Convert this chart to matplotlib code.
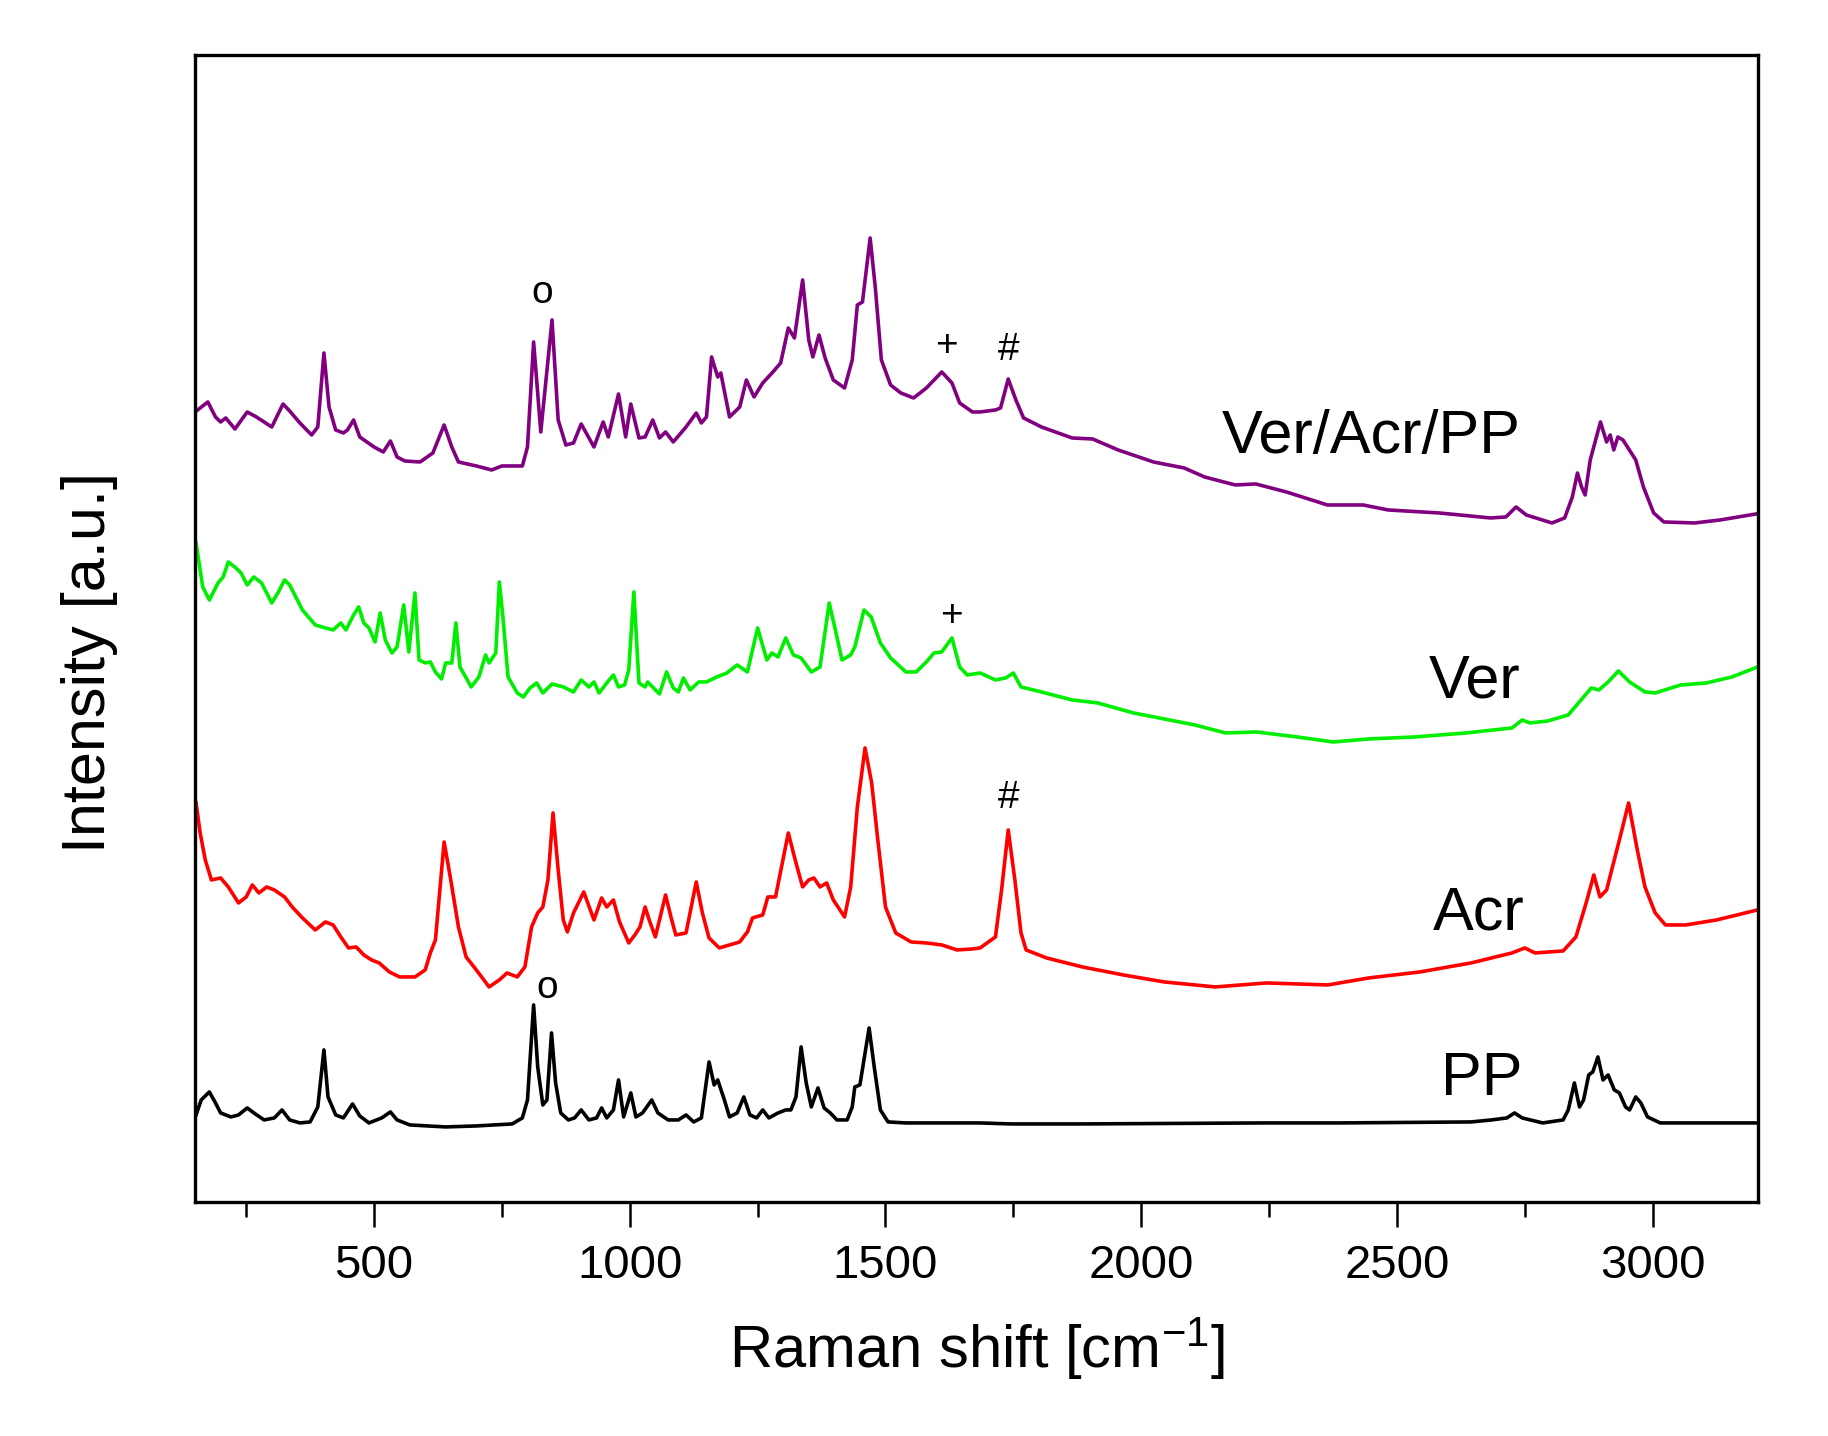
import matplotlib.pyplot as plt
from matplotlib.ticker import MultipleLocator

plt.rcParams['font.family'] = ['Liberation Sans', 'DejaVu Sans']
plt.rcParams['mathtext.fontset'] = 'custom'
plt.rcParams['mathtext.rm'] = 'Liberation Sans'
plt.rcParams['mathtext.it'] = 'Liberation Sans'

# Ver/Acr/PP (stacked, a.u.)
mix_x = [150, 175, 190, 200, 210, 228, 252, 270, 300, 322, 335, 355, 378, 390, 402, 412, 425, 440, 448, 460,
         472, 500, 518, 532, 545, 560, 590, 615, 637, 652, 665, 700, 730, 750, 790, 800, 812, 826, 848, 860,
         875, 890, 905, 930, 948, 958, 978, 992, 1002, 1018, 1030, 1045, 1058, 1070, 1085, 1110, 1130, 1140,
         1150, 1160, 1172, 1178, 1195, 1215, 1228, 1243, 1260, 1280, 1295, 1310, 1322, 1338, 1350, 1358, 1370,
         1382, 1398, 1420, 1435, 1445, 1455, 1470, 1480, 1492, 1510, 1530, 1555, 1580, 1610, 1630, 1645, 1670,
         1685, 1715, 1725, 1740, 1755, 1770, 1805, 1865, 1905, 1955, 2024, 2084, 2124, 2184, 2224, 2284, 2364,
         2434, 2483, 2583, 2683, 2713, 2733, 2753, 2803, 2828, 2843, 2853, 2861, 2868, 2878, 2898, 2910, 2917,
         2924, 2932, 2942, 2967, 2982, 3002, 3022, 3082, 3132, 3202]
mix_y = [790, 800, 785, 780, 784, 773, 790, 785, 775, 798, 791, 779, 767, 775, 849, 795, 772, 769, 772, 782,
         765, 755, 750, 761, 745, 741, 740, 749, 777, 755, 740, 736, 732, 736, 736, 755, 860, 770, 882, 782,
         757, 759, 778, 755, 780, 765, 808, 765, 798, 764, 765, 782, 764, 770, 760, 775, 789, 779,
         785, 845, 825, 829, 785, 795, 822, 805, 819, 830, 839, 874, 864, 922, 862, 845, 867,
         844, 822, 814, 842, 897, 900, 964, 915, 842, 817, 809, 804, 814, 830, 819, 799, 790,
         790, 792, 794, 823, 802, 784, 775, 764, 763, 752, 740, 734, 725, 717, 718, 710, 697,
         697, 692, 689, 684, 685, 695, 687, 679, 684, 705, 729, 715, 707, 742, 780, 760, 767,
         752, 765, 762, 742, 715, 689, 680, 679, 682, 688]

# Ver
ver_x = [152, 165, 178, 195, 205, 215, 230, 240, 252, 265, 280, 300, 312, 325, 335, 350, 360, 385, 405, 420,
         435, 445, 460, 470, 480, 490, 502, 512, 522, 535, 545, 558, 568, 580, 588, 600, 610, 620, 632, 640,
         652, 660, 668, 690, 705, 718, 725, 738, 745, 752, 762, 780, 792, 805, 818, 830, 848, 870, 890, 905,
         920, 930, 940, 955, 968, 978, 990, 998, 1008, 1018, 1030, 1035, 1058, 1072, 1085, 1095, 1105, 1118,
         1135, 1150, 1170, 1190, 1210, 1230, 1250, 1268, 1278, 1290, 1305, 1320, 1335, 1355, 1372, 1390, 1402,
         1415, 1432, 1440, 1458, 1472, 1490, 1510, 1540, 1560, 1580, 1595, 1610, 1630, 1645, 1660,
         1685, 1715, 1735, 1750, 1765, 1805, 1865, 1915, 1985, 2035, 2105, 2165, 2225, 2305, 2375, 2445, 2535,
         2635, 2725, 2745, 2760, 2795, 2835, 2860, 2880, 2895, 2913, 2933, 2955, 2985, 3005, 3055, 3105, 3155,
         3205]
ver_y = [659, 615, 602, 619, 625, 640, 634, 629, 617, 625, 619, 599, 609, 622, 617, 602, 592, 577, 574, 572,
         579, 572, 587, 595, 579, 574, 560, 589, 562, 549, 555, 597, 550, 609, 542, 539, 540, 530, 523, 539,
         539, 579, 535, 515, 525, 547, 539, 549, 620, 585, 525, 509, 505, 514, 519, 509, 518, 515, 510, 522,
         515, 520, 509, 519, 527, 515, 517, 532, 610, 519, 515, 520, 508, 530, 514, 510, 524, 512,
         520, 520, 525, 529, 537, 530, 574, 542, 549, 545, 564, 547, 544, 530, 535, 599, 572,
         542, 547, 555, 592, 585, 559, 544, 530, 530, 540, 549, 550, 564, 535, 527,
         529, 522, 524, 529, 515, 510, 502, 499, 489, 484, 477, 469, 470, 465, 460, 463, 465,
         469, 474, 482, 479, 481, 487, 502, 514, 512, 520, 531, 520, 510, 509, 517, 519, 525,
         535]

# Acr
acr_x = [152, 160, 170, 182, 200, 215, 235, 250, 262, 275, 290, 305, 325, 340, 360, 385, 405, 420, 435, 450,
         465, 480, 495, 510, 530, 550, 580, 600, 610, 620, 637, 650, 665, 680, 700, 725, 745, 760, 780, 795,
         808, 820, 830, 840, 850, 860, 870, 878, 890, 910, 930, 945, 955, 968, 980, 998, 1010, 1020, 1030,
         1038, 1050, 1070, 1082, 1090, 1110, 1130, 1142, 1155, 1175, 1195, 1215, 1230, 1240, 1260, 1270, 1285,
         1310, 1325, 1338, 1350, 1360, 1372, 1385, 1398, 1420, 1432, 1445, 1460, 1473, 1485, 1500, 1520, 1550,
         1580, 1610, 1640, 1670,
         1685, 1715, 1727, 1740, 1753, 1765, 1775, 1815, 1885, 1965, 2045, 2145, 2245, 2365, 2445, 2545, 2645,
         2725, 2750, 2770, 2825, 2850, 2870, 2885, 2897, 2910, 2935, 2953, 2970, 2985, 3005, 3025, 3065, 3125,
         3165, 3205]
acr_y = [399, 369, 342, 322, 324, 315, 299, 305, 317, 309, 315, 312, 305, 295, 284, 272, 280, 277, 265, 254,
         255, 247, 242, 239, 230, 225, 225, 232, 249, 262, 360, 322, 275, 245, 232, 215, 222, 229, 225, 235,
         275, 289, 295, 322, 389, 332, 282, 270, 289, 310, 282, 304, 295, 302, 280, 259, 267, 275, 295,
         282, 265, 307, 282, 267, 269, 320, 289, 264, 254, 257, 260, 270, 284, 287, 305, 305,
         369, 339, 315, 322, 324, 315, 319, 302, 285, 315, 395, 454, 419, 362, 295, 269, 260,
         259, 257, 252, 253,
         254, 265, 312, 372, 322, 269, 252, 244, 235, 227, 220, 215, 219, 217, 224, 230, 239,
         249, 254, 249, 251, 265, 299, 327, 305, 312, 362, 399, 352, 315, 289, 277, 277, 282,
         287, 292]

# PP
pp_x = [152, 162, 178, 190, 200, 220, 235, 252, 265, 285, 305, 320, 335, 355, 375, 390, 402, 410, 425, 440,
        458, 472, 490, 515, 532, 545, 570, 640, 700, 770, 790, 800, 812, 820, 830, 838, 847, 855, 865, 880,
        892, 905, 920, 935, 945, 955, 968, 978, 988, 1002, 1012, 1025, 1043, 1055, 1075, 1095, 1110, 1125,
        1140, 1155, 1165, 1172, 1185, 1195, 1210, 1223, 1235, 1248, 1260, 1272, 1290, 1305, 1315, 1325, 1335,
        1345, 1355, 1368, 1380, 1392, 1405, 1425, 1435, 1440, 1450, 1468, 1478, 1490, 1505, 1540,
        1685, 1745, 1885, 2235, 2385, 2645, 2685, 2715, 2730, 2745, 2785, 2825, 2835, 2847, 2857, 2865, 2875,
        2883, 2893, 2903, 2913, 2925, 2935, 2947, 2955, 2967, 2977, 2990, 3015, 3205]
pp_y = [87, 102, 110, 99, 89, 85, 87, 94, 89, 82, 84, 92, 82, 79, 80, 95, 152, 105, 87, 84,
        98, 86, 79, 84, 90, 82, 77, 75, 76, 78, 84, 102, 197, 135, 97, 102, 169, 119, 89, 82,
        84, 92, 82, 84, 94, 84, 92, 122, 85, 109, 85, 89, 102, 89, 82, 82, 87, 80,
        84, 140, 117, 122, 102, 85, 89, 105, 87, 84, 92, 84, 89, 92, 92, 105, 155,
        119, 95, 114, 94, 89, 82, 82, 95, 115, 117, 174, 135, 92, 80, 79,
        79, 78, 78, 79, 79, 80, 82, 84, 89, 84, 79, 82, 92, 119, 95, 102, 127,
        130, 145, 122, 127, 112, 109, 95, 92, 105, 99, 85, 79, 79]

fig = plt.figure(figsize=(18.28, 14.36), dpi=100)
ax = fig.add_axes([0.1067, 0.163, 0.855, 0.7987])

ax.plot(mix_x, mix_y, color='#800080', linewidth=2.6)
ax.plot(ver_x, ver_y, color='#00ee00', linewidth=2.6)
ax.plot(acr_x, acr_y, color='#ff0000', linewidth=2.6)
ax.plot(pp_x, pp_y, color='black', linewidth=2.6)

# curve labels
ax.text(2450, 749, 'Ver/Acr/PP', fontsize=44, ha='center', va='baseline')
ax.text(2652, 504, 'Ver', fontsize=44, ha='center', va='baseline')
ax.text(2660, 272, 'Acr', fontsize=44, ha='center', va='baseline')
ax.text(2665, 107, 'PP', fontsize=44, ha='center', va='baseline')

# peak markers
ax.text(829, 899, 'o', fontsize=28, ha='center', va='baseline')
ax.text(1619, 846, '+', fontsize=28, ha='center', va='baseline')
ax.text(1741, 842, '#', fontsize=28, ha='center', va='baseline')
ax.text(1628, 576, '+', fontsize=28, ha='center', va='baseline')
ax.text(1741, 394, '#', fontsize=28, ha='center', va='baseline')
ax.text(839, 204, 'o', fontsize=28, ha='center', va='baseline')

ax.set_xlim(150, 3206)
ax.set_ylim(0, 1147)

ax.xaxis.set_major_locator(MultipleLocator(500))
ax.xaxis.set_minor_locator(MultipleLocator(250))
ax.tick_params(axis='x', which='major', direction='out', length=18, width=1.8,
               labelsize=34, pad=12)
ax.tick_params(axis='x', which='minor', direction='out', length=11, width=1.8)
ax.set_yticks([])

for s in ax.spines.values():
    s.set_linewidth(2.4)

ax.set_xlabel('Raman shift [cm$^{-1}$]', fontsize=43, labelpad=20)
ax.set_ylabel('Intensity [a.u.]', fontsize=44)
ax.yaxis.set_label_coords(-0.049, 0.47)

fig.savefig('out.png', dpi=100, facecolor='white')
